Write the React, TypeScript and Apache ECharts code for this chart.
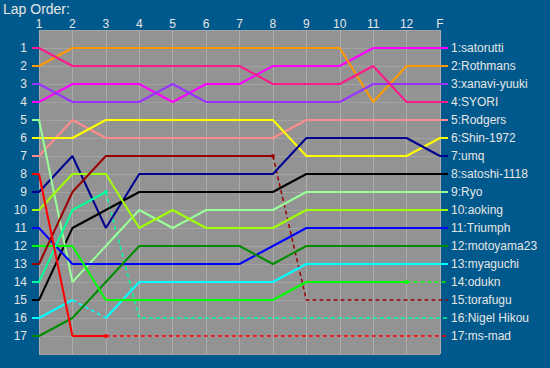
import React, { useEffect, useRef } from 'react';
import * as echarts from 'echarts';

const lapLabels = ['1', '2', '3', '4', '5', '6', '7', '8', '9', '10', '11', '12', 'F'];
const driverNames = [
  'satorutti', 'Rothmans', 'xanavi-yuuki', 'SYORI', 'Rodgers', 'Shin-1972', 'umq',
  'satoshi-1118', 'Ryo', 'aoking', 'Triumph', 'motoyama23', 'myaguchi', 'odukn',
  'torafugu', 'Nigel Hikou', 'ms-mad',
];

// position at laps 1..12, F
const satorutti = [4, 3, 3, 3, 4, 3, 3, 2, 2, 2, 1, 1, 1];
const rothmans = [2, 1, 1, 1, 1, 1, 1, 1, 1, 1, 4, 2, 2];
const xanaviYuuki = [3, 4, 4, 4, 3, 4, 4, 4, 4, 4, 3, 3, 3];
const syori = [1, 2, 2, 2, 2, 2, 2, 3, 3, 3, 2, 4, 4];
const rodgers = [7, 5, 6, 6, 6, 6, 6, 6, 5, 5, 5, 5, 5];
const shin1972 = [6, 6, 5, 5, 5, 5, 5, 5, 7, 7, 7, 7, 6];
const umq = [9, 7, 11, 8, 8, 8, 8, 8, 6, 6, 6, 6, 7];
const satoshi1118 = [15, 11, 10, 9, 9, 9, 9, 9, 8, 8, 8, 8, 8];
const ryo = [5, 14, 12, 10, 11, 10, 10, 10, 9, 9, 9, 9, 9];
const aoking = [10, 8, 8, 11, 10, 11, 11, 11, 10, 10, 10, 10, 10];
const triumph = [11, 13, 13, 13, 13, 13, 13, 12, 11, 11, 11, 11, 11];
const motoyama23 = [17, 16, 14, 12, 12, 12, 12, 13, 12, 12, 12, 12, 12];
const myaguchi = [16, 15, 16, 14, 14, 14, 14, 14, 13, 13, 13, 13, 13];
const odukn = [12, 12, 15, 15, 15, 15, 15, 15, 14, 14, 14, 14, 14];
const torafugu = [13, 9, 7, 7, 7, 7, 7, 7, 15, 15, 15, 15, 15];
const nigelHikou = [14, 10, 9, 16, 16, 16, 16, 16, 16, 16, 16, 16, 16];
const msMad = [8, 17, 17, 17, 17, 17, 17, 17, 17, 17, 17, 17, 17];

const positions = [
  satorutti, rothmans, xanaviYuuki, syori, rodgers, shin1972, umq, satoshi1118, ryo,
  aoking, triumph, motoyama23, myaguchi, odukn, torafugu, nigelHikou, msMad,
];

// dashed segments (segment i joins lap i+1 and lap i+2)
const dashedSegments: number[][] = [
  [], [], [], [], [], [], [], [], [], [], [], [],
  [1],
  [11],
  [7, 8, 9, 10, 11],
  [2, 3, 4, 5, 6, 7, 8, 9, 10, 11],
  [2, 3, 4, 5, 6, 7, 8, 9, 10, 11],
];

const colors = [
  '#ff00ff', '#ff9900', '#9933ff', '#ff1a8c', '#ff8c8c', '#ffff00', '#000090',
  '#000000', '#99ff99', '#a0ff00', '#0000ff', '#008c00', '#00ffff', '#00ff00',
  '#990000', '#00ff99', '#ff0000',
];

const FONT = "'Liberation Sans', Arial, sans-serif";
const TEXT = '#e6e6e6';
const LEFT_EXT = 0.79;
const RIGHT_EXT = 13.24;

function buildSeries() {
  const series: any[] = [];
  positions.forEach((p, d) => {
    const dashed = new Set(dashedSegments[d]);
    const xs = [LEFT_EXT, ...p.map((_, i) => i + 1), RIGHT_EXT];
    const ys = [p[0], ...p, p[p.length - 1]];
    const segDashed = (k: number) => {
      if (k === 0) return false;
      if (k === xs.length - 2) return dashed.has(p.length - 2);
      return dashed.has(k - 1);
    };
    let start = 0;
    const nSeg = xs.length - 1;
    for (let k = 0; k < nSeg; k++) {
      const cur = segDashed(k);
      const next = k + 1 < nSeg ? segDashed(k + 1) : null;
      if (next !== cur) {
        const isLast = k === nSeg - 1;
        const data: any[] = [];
        for (let j = start; j <= k + 1; j++) {
          const item: any = { value: [xs[j], ys[j]] };
          if (cur && isLast && j === start) {
            item.symbol = 'circle';
            item.symbolSize = 4;
          }
          data.push(item);
        }
        series.push({
          type: 'line',
          name: driverNames[d] + '-' + start,
          xAxisIndex: 1,
          yAxisIndex: 1,
          data,
          symbol: 'none',
          showSymbol: true,
          clip: false,
          silent: true,
          z: 10 - (cur ? 1 : 0),
          itemStyle: { color: colors[d] },
          lineStyle: {
            color: colors[d],
            width: cur ? 1.5 : 2,
            type: cur ? [4, 3] : 'solid',
          },
          endLabel: isLast
            ? {
                show: true,
                distance: 3,
                formatter: `${p[p.length - 1]}:${driverNames[d]}`,
                color: TEXT,
                fontSize: 12,
                fontFamily: FONT,
              }
            : { show: false },
        });
        start = k + 1;
      }
    }
  });
  return series;
}

export default function App() {
  const ref = useRef<HTMLDivElement>(null);
  useEffect(() => {
    if (!ref.current) return;
    const chart = echarts.init(ref.current, null, { renderer: 'svg' });
    chart.setOption({
      animation: false,
      backgroundColor: '#00598c',
      title: {
        text: 'Lap Order:',
        left: 3,
        top: 2,
        padding: 0,
        textStyle: {
          color: TEXT,
          fontSize: 14,
          lineHeight: 14,
          fontWeight: 'normal',
          fontFamily: FONT,
        },
      },
      grid: [
        {
          left: 39,
          right: 110,
          top: 30,
          bottom: 14,
          show: true,
          backgroundColor: '#939393',
          borderWidth: 0,
        },
        {
          left: 32,
          right: 102,
          top: 30,
          bottom: 14,
          show: false,
        },
      ],
      xAxis: [
        {
          type: 'value',
          gridIndex: 0,
          position: 'top',
          min: 1,
          max: 13,
          interval: 1,
          axisLine: { show: false },
          axisTick: { show: false },
          axisLabel: {
            color: TEXT,
            fontSize: 12,
            lineHeight: 12,
            fontFamily: FONT,
            margin: 0,
            showMinLabel: true,
            showMaxLabel: true,
            formatter: (v: number) => lapLabels[v - 1] ?? '',
          },
          splitLine: { show: true, lineStyle: { color: '#adadad', width: 1 } },
        },
        {
          type: 'value',
          gridIndex: 1,
          min: LEFT_EXT,
          max: RIGHT_EXT,
          show: false,
        },
      ],
      yAxis: [
        {
          type: 'value',
          gridIndex: 0,
          inverse: true,
          min: 0,
          max: 18,
          interval: 1,
          axisLine: { show: false },
          axisTick: { show: false },
          axisLabel: {
            color: TEXT,
            fontSize: 12,
            fontFamily: FONT,
            margin: 12,
            formatter: (v: number) => (v >= 1 && v <= 17 ? String(v) : ''),
          },
          splitLine: { show: true, lineStyle: { color: '#a3a3a3', width: 1 } },
        },
        {
          type: 'value',
          gridIndex: 1,
          inverse: true,
          min: 0,
          max: 18,
          show: false,
        },
      ],
      series: buildSeries(),
    });
    return () => chart.dispose();
  }, []);
  return (
    <div
      ref={ref}
      style={{ position: 'fixed', left: 0, top: 0, width: 550, height: 368 }}
    />
  );
}
